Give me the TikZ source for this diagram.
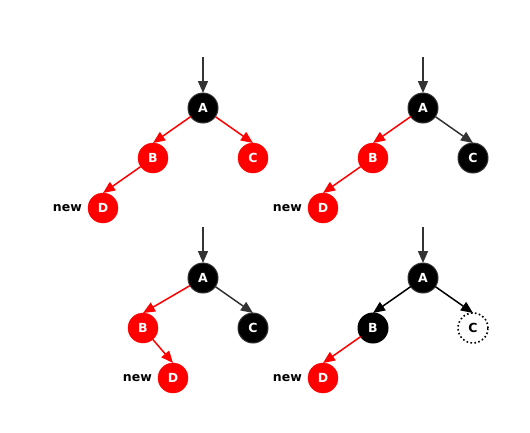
\documentclass[tikz,border=0pt]{standalone}
\usepackage{fontspec}
\setmainfont{DejaVu Sans}
\usetikzlibrary{arrows.meta}
\usetikzlibrary{positioning}
\definecolor{mred}{rgb}{1, 0, 0}
\definecolor{mgray}{rgb}{0.2, 0.2, 0.2}
\tikzset{rb/.style = {circle, minimum size = 30pt, inner sep = 0, outer sep = 0,
                      font = \bfseries\fontsize{12.5}{14}\selectfont}}
\tikzset{rednode/.style = {rb, fill = mred, draw = mred, text = white}}
\tikzset{blacknode/.style = {rb, fill = black, draw = mgray, line width = 1pt, text = white}}
\tikzset{nilnode/.style = {rb, fill = white, draw = black, line width = 1.6pt,
                           dash pattern = on 1.6pt off 2.4pt, text = black}}
\tikzset{newlabel/.style = {inner sep = 0, font = \bfseries\fontsize{12.5}{14}\selectfont}}
\tikzset{edge/.style = {-{Triangle[length = 12pt, width = 10pt]}, line width = 1.5pt}}
\tikzset{rededge/.style = {edge, mred}}
\tikzset{grayedge/.style = {edge, mgray}}
\tikzset{blackedge/.style = {edge, black}}

\begin{document}
\begin{tikzpicture}[x = 1pt, y = -1pt]
    \useasboundingbox [fill = white] (0, 0) rectangle (530, 432);

    % top left
    \coordinate (in1) at (203, 57);
    \node [blacknode] (A1) at (203, 108) {A};
    \node [rednode] (B1) at (153, 158) {B};
    \node [rednode] (C1) at (253, 158) {C};
    \node [rednode] (D1) at (103, 208) {D};
    \node [newlabel, left = 6pt of D1] (n1) {new};
    \draw [grayedge] (in1) -- (A1);
    \draw [rededge] (A1) -- (B1.north);
    \draw [rededge] (A1) -- (C1.north);
    \draw [rededge] (B1) -- (D1.north);

    % top right
    \coordinate (in2) at (423, 57);
    \node [blacknode] (A2) at (423, 108) {A};
    \node [rednode] (B2) at (373, 158) {B};
    \node [blacknode] (C2) at (473, 158) {C};
    \node [rednode] (D2) at (323, 208) {D};
    \node [newlabel, left = 6pt of D2] (n2) {new};
    \draw [grayedge] (in2) -- (A2);
    \draw [rededge] (A2) -- (B2.north);
    \draw [grayedge] (A2) -- (C2.north);
    \draw [rededge] (B2) -- (D2.north);

    % bottom left
    \coordinate (in3) at (203, 227);
    \node [blacknode] (A3) at (203, 278) {A};
    \node [rednode] (B3) at (143, 328) {B};
    \node [blacknode] (C3) at (253, 328) {C};
    \node [rednode] (D3) at (173, 378) {D};
    \node [newlabel, left = 6pt of D3] (n3) {new};
    \draw [grayedge] (in3) -- (A3);
    \draw [rededge] (A3) -- (B3.north);
    \draw [grayedge] (A3) -- (C3.north);
    \draw [rededge] (B3) -- (D3.north);

    % bottom right
    \coordinate (in4) at (423, 227);
    \node [blacknode] (A4) at (423, 278) {A};
    \node [blacknode, draw = black] (B4) at (373, 328) {B};
    \node [nilnode] (C4) at (473, 328) {C};
    \node [rednode] (D4) at (323, 378) {D};
    \node [newlabel, left = 6pt of D4] (n4) {new};
    \draw [grayedge] (in4) -- (A4);
    \draw [blackedge] (A4) -- (B4.north);
    \draw [blackedge] (A4) -- (C4.north);
    \draw [rededge] (B4) -- (D4.north);

  \end{tikzpicture}
\end{document}
